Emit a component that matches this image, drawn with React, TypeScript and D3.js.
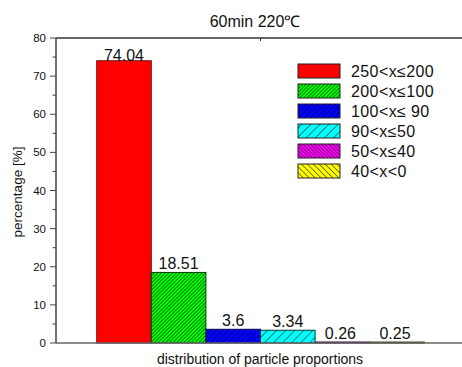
import React from "react";
import * as d3 from "d3";

// Particle size classes (legend labels) and their share in percent
const classes = ["250<x≤200", "200<x≤100", "100<x≤ 90", "90<x≤50", "50<x≤40", "40<x<0"];
const percentages = [74.04, 18.51, 3.6, 3.34, 0.26, 0.25];
const valueLabels = ["74.04", "18.51", "3.6", "3.34", "0.26", "0.25"];
const yTicks = [0, 10, 20, 30, 40, 50, 60, 70, 80];
const yMinorTicks = [5, 15, 25, 35, 45, 55, 65, 75];

const fills = ["#ff0000", "#00ff00", "#0000ff", "#00ffff", "#ff00ff", "#ffff00"];
const borders = ["#7a1010", "#0b3a0b", "#0a0a50", "#0a3a3a", "#3a0a3a", "#3a3a0a"];
// hatch: [spacing, direction] ; spacing 0 = solid
const hatches: [number, number][] = [[0, 1], [2.6, 1], [4.2, 1], [6.4, 1], [2.6, -1], [4.2, -1]];

const W = 462;
const H = 367;
const plot = { left: 56, right: 464, top: 38, bottom: 343 };
const FONT = "Arial, 'Liberation Sans', sans-serif";

export default function App() {
  const y = d3.scaleLinear().domain([0, 80]).range([plot.bottom, plot.top]);
  const x = d3.scaleBand<string>().domain(classes).range([96.7, 424.3]).padding(0);
  const legendX = 298;
  const legendY0 = 64;
  const legendStep = 20;

  return (
    <svg width={W} height={H} style={{ position: "absolute", left: 0, top: 0 }} fontFamily={FONT}>
      <defs>
        {hatches.map(([sp, dir], i) =>
          sp > 0 ? (
            <pattern
              key={i}
              id={`hatch${i}`}
              patternUnits="userSpaceOnUse"
              width={sp}
              height={sp}
              patternTransform={`rotate(${dir > 0 ? 45 : -45})`}
            >
              <rect width={sp} height={sp} fill={fills[i]} />
              <line x1={0} y1={0} x2={0} y2={sp} stroke="#000" strokeWidth={1} />
            </pattern>
          ) : null
        )}
      </defs>
      <rect width={W} height={H} fill="#fff" />

      {/* title */}
      <text x={255} y={27} textAnchor="middle" fontSize={16} fill="#111">
        60min 220℃
      </text>

      {/* bars */}
      {classes.map((c, i) => {
        const x0 = x(c)!;
        const top = y(percentages[i]);
        const fill = hatches[i][0] > 0 ? `url(#hatch${i})` : fills[i];
        return (
          <g key={c}>
            <rect
              x={x0}
              y={top}
              width={x.bandwidth()}
              height={plot.bottom - top}
              fill={fill}
              stroke={borders[i]}
              strokeWidth={1}
            />
            <text
              x={x0 + x.bandwidth() / 2 - (i >= 4 ? 2 : 0)}
              y={top - (i === 0 ? 0 : 3)}
              textAnchor="middle"
              fontSize={16}
              fill="#111"
            >
              {valueLabels[i]}
            </text>
          </g>
        );
      })}

      {/* frame: top line, left axis, bottom axis */}
      <line x1={plot.left} y1={plot.top} x2={W} y2={plot.top} stroke="#333" strokeWidth={1.3} />
      <line x1={260.5} y1={plot.top} x2={260.5} y2={plot.top + 3} stroke="#333" strokeWidth={1} />
      <line x1={plot.left} y1={plot.top} x2={plot.left} y2={plot.bottom} stroke="#444" strokeWidth={1.5} />
      <line x1={plot.left} y1={plot.bottom} x2={W} y2={plot.bottom} stroke="#666" strokeWidth={1.6} />

      {/* y ticks */}
      {yTicks.map((t) => (
        <g key={t}>
          <line x1={plot.left - 6} y1={y(t)} x2={plot.left} y2={y(t)} stroke="#444" strokeWidth={1} />
          <text x={46} y={y(t) + 4} textAnchor="end" fontSize={11.5} fill="#111">
            {t}
          </text>
        </g>
      ))}
      {yMinorTicks.map((t) => (
        <line key={t} x1={plot.left - 3.5} y1={y(t)} x2={plot.left} y2={y(t)} stroke="#444" strokeWidth={1} />
      ))}

      {/* axis titles */}
      <text transform="translate(22,192) rotate(-90)" textAnchor="middle" fontSize={13.5} fill="#111">
        percentage [%]
      </text>
      <text x={260} y={364} textAnchor="middle" fontSize={14} fill="#111">
        distribution of particle proportions
      </text>

      {/* legend */}
      {classes.map((c, i) => {
        const ly = legendY0 + i * legendStep;
        const fill = hatches[i][0] > 0 ? `url(#hatch${i})` : fills[i];
        return (
          <g key={`lg-${c}`}>
            <rect x={legendX} y={ly} width={42} height={14} fill={fill} stroke="#222" strokeWidth={1} />
            <text x={351} y={ly + 13} fontSize={16} letterSpacing={0.4} fill="#111">
              {c}
            </text>
          </g>
        );
      })}
    </svg>
  );
}
